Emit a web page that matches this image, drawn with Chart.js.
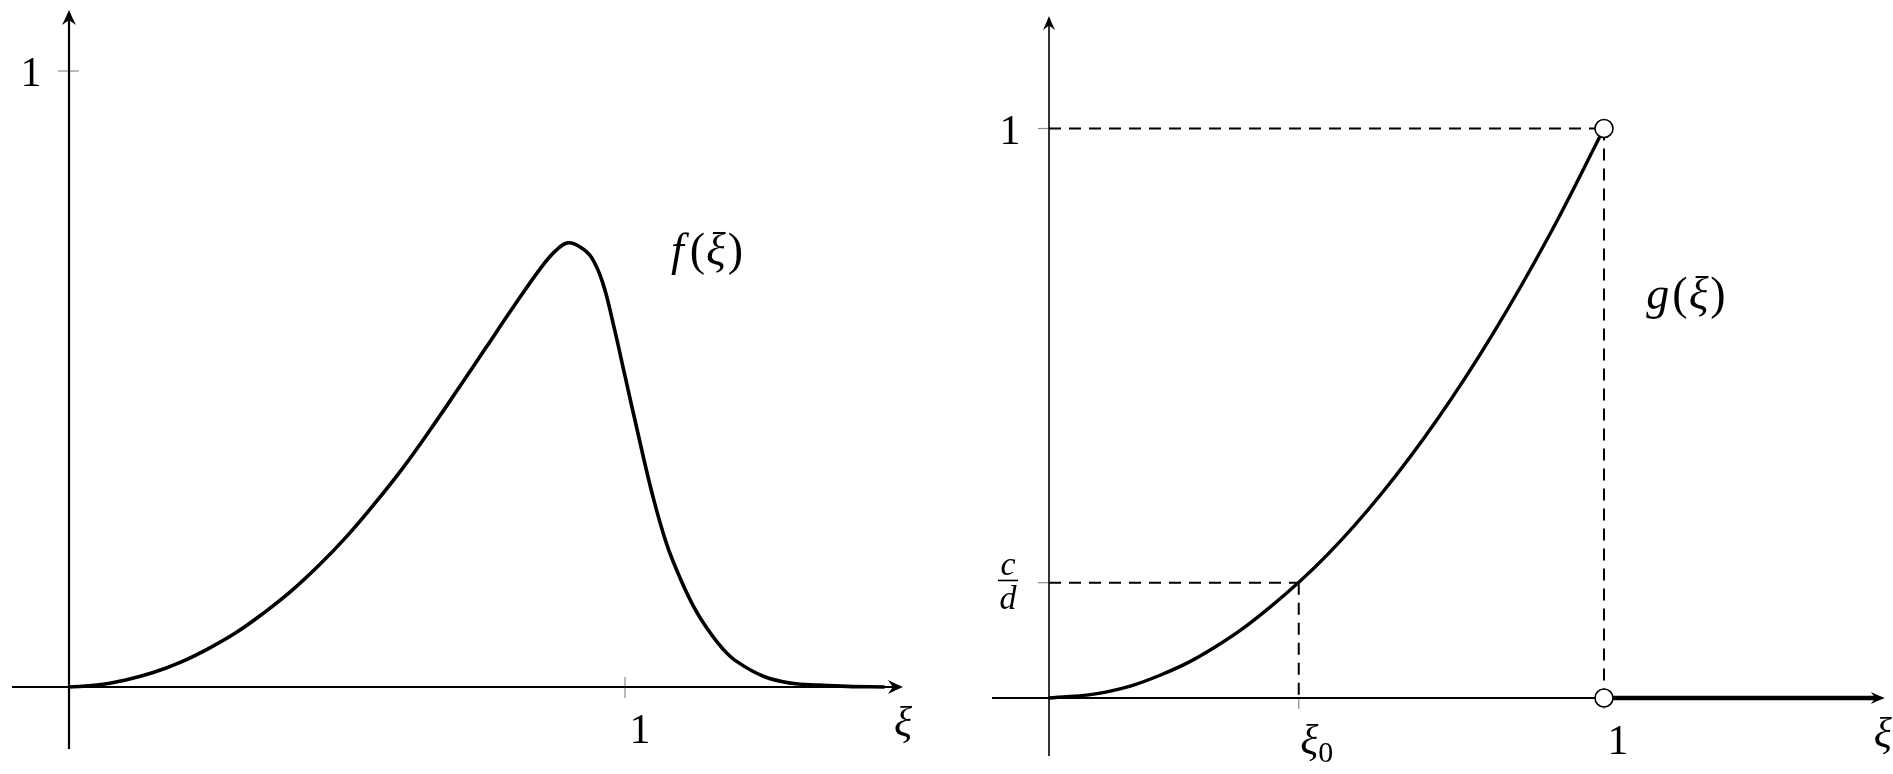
<!DOCTYPE html>
<html><head><meta charset="utf-8">
<script src="https://cdn.jsdelivr.net/npm/chart.js@4.4.1/dist/chart.umd.min.js"></script>
<style>
html,body{margin:0;padding:0;background:#fff;overflow:hidden;}
#wrap{position:relative;width:1893px;height:774px;background:#fff;}
#c1{position:absolute;left:0;top:0;}
#c2{position:absolute;left:946px;top:0;}
.fontprobe{position:absolute;left:-9999px;top:0;font-family:"Liberation Serif","Times New Roman",Times,"DejaVu Serif",serif;font-size:40px;}
</style></head><body>
<div class="fontprobe">1 <i>f(ξ) g c d</i> ξ0</div>
<div id="wrap"><canvas id="c1" width="946" height="774"></canvas><canvas id="c2" width="947" height="774"></canvas></div>
<script>
// ---------------- data ----------------
// left panel: f(xi)
const fXi  = [0, 0.05, 0.1, 0.15, 0.2, 0.25, 0.3, 0.35, 0.4, 0.45, 0.5, 0.55, 0.6, 0.65, 0.7, 0.75, 0.8, 0.85, 0.875, 0.897, 0.92, 0.94, 0.96, 0.98, 1.0, 1.025, 1.05, 1.075, 1.1, 1.125, 1.15, 1.175, 1.2, 1.25, 1.3, 1.35, 1.4, 1.467];
const fVal = [0, 0.003, 0.011, 0.023, 0.040, 0.062, 0.088, 0.120, 0.156, 0.198, 0.245, 0.298, 0.355, 0.418, 0.484, 0.551, 0.618, 0.682, 0.708, 0.721, 0.714, 0.697, 0.656, 0.585, 0.505, 0.405, 0.310, 0.232, 0.175, 0.128, 0.092, 0.063, 0.042, 0.017, 0.006, 0.003, 0.001, 0];
const leftXTicks = [1];
const leftXTickLabels = ['1'];
const leftYTicks = [1];
const leftYTickLabels = ['1'];

// right panel: g(xi)
const gXi  = [0, 0.1, 0.2, 0.3, 0.4, 0.5, 0.6, 0.7, 0.8, 0.9, 1];
const gVal = [0, 0.010, 0.040, 0.090, 0.161, 0.25, 0.36, 0.49, 0.64, 0.81, 1];
const gTailXi  = [1, 1.49];
const gTailVal = [0, 0];
const openXi  = [1, 1];
const openVal = [1, 0];
const xi0 = 0.45;
const cOverD = 0.2025;
const rightXTicks = [xi0, 1];
const rightXTickLabels = ['ξ0', '1'];
const rightYTicks = [cOverD, 1];
const rightYTickLabels = ['c/d', '1'];

// ---------------- helpers ----------------
const SERIF = '"Liberation Serif", "Times New Roman", Times, "DejaVu Serif", serif';
const pts = (xs, ys) => xs.map((x, i) => ({x: x, y: ys[i]}));

function arrowHead(ctx, x, y, dx, dy, len, hw) {
  const px = -dy, py = dx;
  const bx = x - dx * len, by = y - dy * len;
  const nx = x - dx * len * 0.68, ny = y - dy * len * 0.68;
  ctx.beginPath();
  ctx.moveTo(x, y);
  ctx.quadraticCurveTo(x - dx * len * 0.5 + px * hw * 0.45, y - dy * len * 0.5 + py * hw * 0.45, bx + px * hw, by + py * hw);
  ctx.lineTo(nx, ny);
  ctx.lineTo(bx - px * hw, by - py * hw);
  ctx.quadraticCurveTo(x - dx * len * 0.5 - px * hw * 0.45, y - dy * len * 0.5 - py * hw * 0.45, x, y);
  ctx.closePath();
  ctx.fill();
}

function rich(ctx, parts, cx, by) {
  let w = 0;
  parts.forEach(p => { ctx.font = p.font; p.w = ctx.measureText(p.t).width; w += p.w + (p.gap || 0); });
  let x = cx - w / 2;
  ctx.textAlign = 'left';
  ctx.textBaseline = 'alphabetic';
  parts.forEach(p => { ctx.font = p.font; ctx.fillText(p.t, x, by + (p.dy || 0)); x += p.w + (p.gap || 0); });
}

function makeDecor(cfg) {
  return {
    id: 'decor_' + cfg.name,
    beforeDatasetsDraw(chart) {
      const {ctx} = chart; const X = chart.scales.x, Y = chart.scales.y;
      const x0 = X.getPixelForValue(0), y0 = Y.getPixelForValue(0);
      ctx.save();
      ctx.strokeStyle = '#8c8c8c'; ctx.lineWidth = 1.2;
      cfg.yTicks.forEach(v => { const p = Y.getPixelForValue(v); ctx.beginPath(); ctx.moveTo(x0 - cfg.tickOut, p); ctx.lineTo(x0 + cfg.tickIn, p); ctx.stroke(); });
      cfg.xTicks.forEach(v => { const p = X.getPixelForValue(v); ctx.beginPath(); ctx.moveTo(p, y0 - cfg.tickIn); ctx.lineTo(p, y0 + cfg.tickOut); ctx.stroke(); });
      ctx.strokeStyle = '#000';
      ctx.lineWidth = cfg.xAxisW;
      ctx.beginPath(); ctx.moveTo(X.getPixelForValue(cfg.xFrom), y0); ctx.lineTo(X.getPixelForValue(cfg.xTo) - 6, y0); ctx.stroke();
      ctx.lineWidth = cfg.yAxisW;
      ctx.beginPath(); ctx.moveTo(x0, Y.getPixelForValue(cfg.yFrom)); ctx.lineTo(x0, Y.getPixelForValue(cfg.yTo) + 6); ctx.stroke();
      ctx.restore();
    },
    afterDatasetsDraw(chart) {
      const {ctx} = chart; const X = chart.scales.x, Y = chart.scales.y;
      const x0 = X.getPixelForValue(0), y0 = Y.getPixelForValue(0);
      ctx.save(); ctx.fillStyle = '#000';
      arrowHead(ctx, X.getPixelForValue(cfg.xTo), y0, 1, 0, cfg.arrLen, cfg.arrHw);
      arrowHead(ctx, x0, Y.getPixelForValue(cfg.yTo), 0, -1, cfg.arrLen, cfg.arrHw);
      ctx.restore();
    },
    afterDraw(chart) {
      const {ctx} = chart; const X = chart.scales.x, Y = chart.scales.y;
      ctx.save(); ctx.fillStyle = '#000';
      cfg.labels(ctx, X, Y);
      ctx.restore();
    }
  };
}

function baseOptions(r) {
  return {
    responsive: false, animation: false, devicePixelRatio: 1, events: [],
    layout: {padding: 0, autoPadding: false},
    plugins: {legend: {display: false}, tooltip: {enabled: false}},
    scales: {
      x: {type: 'linear', min: r[0], max: r[1], display: false, bounds: 'data'},
      y: {type: 'linear', min: r[2], max: r[3], display: false, bounds: 'data'}
    },
    elements: {point: {radius: 0}}
  };
}

const upright42 = '42px ' + SERIF, italic42 = 'italic 42px ' + SERIF;
const upright46 = '46px ' + SERIF, italic46 = 'italic 46px ' + SERIF;
const charts = [];

// ---------------- left chart ----------------
charts.push(new Chart(document.getElementById('c1'), {
  type: 'line',
  data: {datasets: [{
    data: pts(fXi, fVal), borderColor: '#000', borderWidth: 3.6, pointRadius: 0,
    tension: 0.4, fill: false
  }]},
  options: baseOptions([-0.12410, 1.57734, -0.14123, 1.11526]),
  plugins: [makeDecor({
    name: 'left', xFrom: -0.1025, xTo: 1.5, yFrom: -0.1006, yTo: 1.099,
    xAxisW: 2.2, yAxisW: 2.2, arrLen: 15, arrHw: 7, tickIn: 10, tickOut: 11,
    xTicks: leftXTicks, yTicks: leftYTicks,
    labels(ctx, X, Y) {
      const x0 = X.getPixelForValue(0), y0 = Y.getPixelForValue(0);
      leftYTicks.forEach((v, i) => rich(ctx, [{t: leftYTickLabels[i], font: upright42}], x0 - 38, Y.getPixelForValue(v) + 15));
      leftXTicks.forEach((v, i) => rich(ctx, [{t: leftXTickLabels[i], font: upright42}], X.getPixelForValue(v) + 15, y0 + 56));
      rich(ctx, [{t: 'ξ', font: italic42}], X.getPixelForValue(1.5), y0 + 49);
      rich(ctx, [{t: 'f', font: italic46, gap: 6}, {t: '(', font: upright46, gap: 1}, {t: 'ξ', font: italic46, gap: 2}, {t: ')', font: upright46}],
        X.getPixelForValue(1.1475), Y.getPixelForValue(0.685));
    }
  })]
}));

// ---------------- right chart ----------------
const dashStyle = {borderColor: '#000', borderWidth: 2, borderDash: [12, 8], pointRadius: 0, fill: false};
charts.push(new Chart(document.getElementById('c2'), {
  type: 'line',
  data: {datasets: [
    {data: pts(openXi, openVal), showLine: false, pointRadius: 9, pointBackgroundColor: '#fff', pointBorderColor: '#000', pointBorderWidth: 1.6},
    {data: pts(gXi, gVal), borderColor: '#000', borderWidth: 3.4, pointRadius: 0, tension: 0.4, fill: false},
    {data: pts(gTailXi, gTailVal), borderColor: '#000', borderWidth: 4.5, pointRadius: 0, fill: false},
    Object.assign({data: [{x: 0, y: 1}, {x: 1, y: 1}]}, dashStyle),
    Object.assign({data: [{x: 1, y: 1}, {x: 1, y: 0}]}, dashStyle),
    Object.assign({data: [{x: 0, y: cOverD}, {x: xi0, y: cOverD}]}, dashStyle),
    Object.assign({data: [{x: xi0, y: cOverD}, {x: xi0, y: 0}]}, dashStyle)
  ]},
  options: baseOptions([-0.18559, 1.52072, -0.13345, 1.22564]),
  plugins: [makeDecor({
    name: 'right', xFrom: -0.1027, xTo: 1.506, yFrom: -0.1018, yTo: 1.1975,
    xAxisW: 2, yAxisW: 1.6, arrLen: 14, arrHw: 6, tickIn: 0, tickOut: 11,
    xTicks: rightXTicks, yTicks: rightYTicks,
    labels(ctx, X, Y) {
      const x0 = X.getPixelForValue(0), y0 = Y.getPixelForValue(0);
      const py1 = Y.getPixelForValue(rightYTicks[1]);
      rich(ctx, [{t: rightYTickLabels[1], font: upright42}], x0 - 39, py1 + 15);
      const pcd = Y.getPixelForValue(rightYTicks[0]);
      const [cNum, dDen] = rightYTickLabels[0].split('/');
      rich(ctx, [{t: cNum, font: 'italic 34px ' + SERIF}], x0 - 41, pcd - 8);
      ctx.fillRect(x0 - 51, pcd - 3, 20, 1.6);
      rich(ctx, [{t: dDen, font: 'italic 34px ' + SERIF}], x0 - 41, pcd + 26);
      const pxi = X.getPixelForValue(rightXTicks[0]);
      rich(ctx, [{t: rightXTickLabels[0][0], font: italic42, gap: 0}, {t: rightXTickLabels[0].slice(1), font: '30px ' + SERIF, dy: 8}], pxi + 18, y0 + 56);
      rich(ctx, [{t: rightXTickLabels[1], font: upright42}], X.getPixelForValue(rightXTicks[1]) + 14, y0 + 56);
      rich(ctx, [{t: 'ξ', font: italic42}], X.getPixelForValue(1.506) - 2, y0 + 49);
      rich(ctx, [{t: 'g', font: italic46, gap: 3}, {t: '(', font: upright46, gap: 1}, {t: 'ξ', font: italic46, gap: 2}, {t: ')', font: upright46}],
        X.getPixelForValue(1.1477), Y.getPixelForValue(0.683));
    }
  })]
}));

if (document.fonts && document.fonts.load) {
  Promise.all([
    document.fonts.load('42px "Liberation Serif"', '1ξ'),
    document.fonts.load('italic 42px "Liberation Serif"', 'fξgcd')
  ]).then(() => charts.forEach(c => c.draw())).catch(() => {});
}
</script>
</body></html>
